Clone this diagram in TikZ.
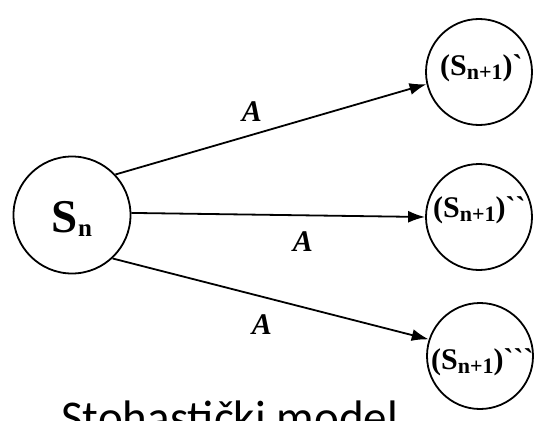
\documentclass[tikz,border=0pt]{standalone}
\usepackage{fontspec}
\usetikzlibrary{arrows.meta}
\newfontfamily\tms{Liberation Serif}
\newfontfamily\carl{Carlito}
\newcommand\gv{\char"60\relax}
\begin{document}
\begin{tikzpicture}[x=1pt,y=-1pt,
  state/.style={circle,draw,line width=1.8pt,inner sep=0pt,minimum size=106pt},
  arr/.style={line width=1.8pt,-{Latex[length=17pt,width=12pt]}},
  lab/.style={font=\tms\bfseries\itshape\fontsize{30}{30}\selectfont},
  stxt/.style={font=\tms\bfseries\fontsize{30}{30}\selectfont,inner sep=0pt},
  sub/.style={}]
\useasboundingbox (0,0) rectangle (535,420);
\node[state,minimum size=117pt] (sn) at (72,215) {};
\node[inner sep=0pt] (snt) at (72,219) {\tms\bfseries\fontsize{47}{47}\selectfont S\raisebox{-4pt}{\fontsize{25}{25}\selectfont n}};
\node[state] (t1) at (479,72) {};
\node[state] (t2) at (479,217) {};
\node[state] (t3) at (480,356) {};
\node[stxt,anchor=west] (t1t) at (440,68) {(S\raisebox{-4pt}{\fontsize{22}{22}\selectfont n+1})\gv};
\node[stxt,anchor=west] (t2t) at (433,210) {(S\raisebox{-4pt}{\fontsize{22}{22}\selectfont n+1})\gv\gv};
\node[stxt,anchor=west] (t3t) at (431,362) {(S\raisebox{-4pt}{\fontsize{22}{22}\selectfont n+1})\gv\gv\gv};
\draw[arr] (sn.43) -- (t1.193);
\draw[arr] (sn.2) -- (t2.180);
\draw[arr] (sn.-47) -- (t3.162);
\node[lab] (a1) at (252,112) {A};
\node[lab] (a2) at (303,242) {A};
\node[lab] (a3) at (262,325) {A};
\node[anchor=base west,inner sep=0pt] (cap) at (61,433) {\carl\fontsize{47}{47}\selectfont Stohastički model};
\end{tikzpicture}
\end{document}
